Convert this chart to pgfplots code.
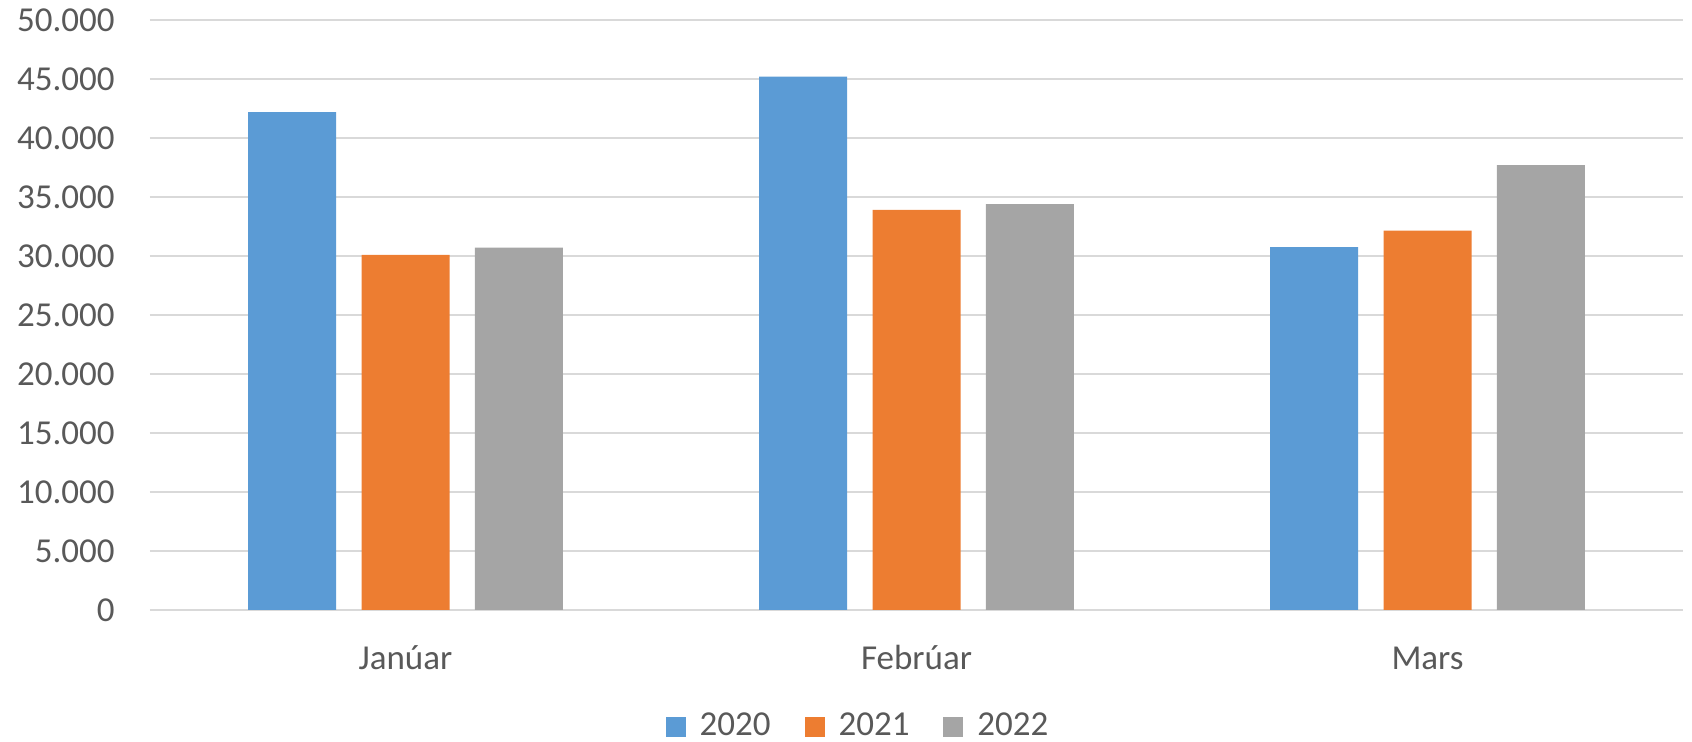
\documentclass[border=0pt]{standalone}
\usepackage{fontspec}
\setmainfont{Carlito}
\usepackage{pgfplots}
\pgfplotsset{compat=1.18}
\definecolor{c2020}{HTML}{5B9BD5}
\definecolor{c2021}{HTML}{ED7D31}
\definecolor{c2022}{HTML}{A5A5A5}
\definecolor{gridc}{HTML}{D9D9D9}
\definecolor{labc}{HTML}{595959}

\begin{document}
\fontsize{17.5pt}{21pt}\selectfont
\begin{tikzpicture}
\path[use as bounding box] (-75pt,-66pt) rectangle (771pt,305pt);
\begin{axis}[
  at={(0pt,0pt)}, anchor=south west,
  scale only axis, width=766.5pt, height=295pt,
  ybar=12.65pt, bar width=44pt,
  xmin=-0.5, xmax=2.5, ymin=0, ymax=50000,
  xtick={0,1,2}, xticklabels={Janúar,Febrúar,Mars},
  ytick={0,5000,...,50000},
  scaled y ticks=false,
  /pgf/number format/.cd, 1000 sep={.}, assume math mode=true, /pgfplots/.cd,
  axis line style={draw=none},
  major tick length=0pt,
  ymajorgrids, grid style={gridc, line width=0.75pt},
  tick label style={font=\fontsize{17.5pt}{21pt}\selectfont, text=labc},
  y tick label style={anchor=east, inner sep=0pt, xshift=-17.5pt},
  x tick label style={anchor=base, inner sep=0pt, yshift=-30pt},
  legend columns=3,
  legend style={at={(0.4625,-0.198)}, anchor=center, draw=none,
    font=\fontsize{17.5pt}{21pt}\selectfont, text=labc, inner sep=0pt,
    /tikz/every odd column/.append style={column sep=5pt},
    /tikz/every even column/.append style={column sep=15pt}},
  legend image code/.code={\fill[#1, draw=none] (0pt,-5pt) rectangle (10pt,5pt);},
]
\addplot[fill=c2020, draw=none] coordinates {(0,42200) (1,45200) (2,30750)};
\addplot[fill=c2021, draw=none] coordinates {(0,30100) (1,33900) (2,32150)};
\addplot[fill=c2022, draw=none] coordinates {(0,30700) (1,34400) (2,37700)};
\legend{2020,2021,2022}
\end{axis}
\end{tikzpicture}
\end{document}
